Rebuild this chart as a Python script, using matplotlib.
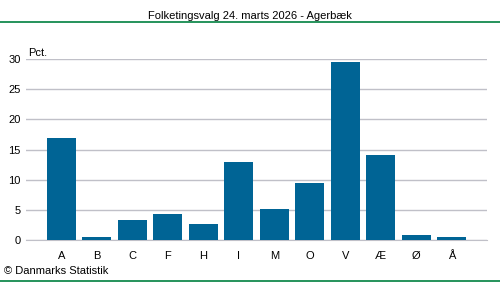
import numpy as np
import matplotlib.pyplot as plt

plt.rcParams['font.family'] = ['Liberation Sans', 'DejaVu Sans']

partier = ['A', 'B', 'C', 'F', 'H', 'I', 'M', 'O', 'V', 'Æ', 'Ø', 'Å']
pct = [16.9, 0.5, 3.3, 4.3, 2.7, 13.0, 5.2, 9.5, 29.6, 14.1, 0.8, 0.5]
yticks = [0, 5, 10, 15, 20, 25, 30]

fig = plt.figure(figsize=(5, 2.82), dpi=100)
ax = fig.add_axes([0.052, 0.149, 0.922, 0.641])

x = np.arange(len(partier))
ax.bar(x, pct, width=0.82, color='#006495', zorder=3)
ax.set_xlim(-1, 12)
ax.set_ylim(0, 30)
ax.set_yticks(yticks)
ax.set_xticks(x)
ax.set_xticklabels(partier)
ax.grid(axis='y', color='#c0c0c8', linewidth=1, zorder=0)
for s in ['left', 'right', 'top']:
    ax.spines[s].set_visible(False)
ax.spines['bottom'].set_color('#c0c0c8')
ax.tick_params(length=0, labelsize=8, pad=8)
ax.tick_params(axis='y', pad=4)

fig.text(0.056, 0.796, 'Pct.', fontsize=8, ha='left', va='bottom')
fig.text(0.5, 0.945, 'Folketingsvalg 24. marts 2026 - Agerbæk', fontsize=8, ha='center', va='center')
fig.add_artist(plt.Line2D([0, 1], [0.921, 0.921], color='#00803f', linewidth=1.2))
fig.add_artist(plt.Line2D([0, 1], [0.004, 0.004], color='#00803f', linewidth=1.2))
fig.text(0.008, 0.039, '© Danmarks Statistik', fontsize=8, ha='left', va='center')

fig.savefig('out.png', dpi=100)
